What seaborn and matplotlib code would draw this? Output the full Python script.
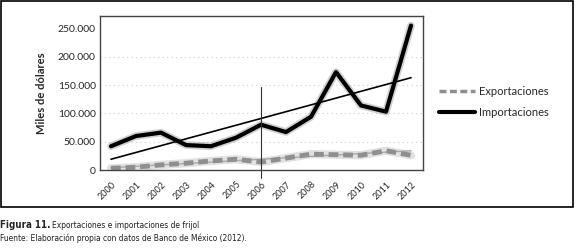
import numpy as np
import pandas as pd
from matplotlib import pyplot as plt
import seaborn as sns

years = [2000, 2001, 2002, 2003, 2004, 2005, 2006, 2007, 2008, 2009, 2010, 2011, 2012]
importaciones = [42000, 60000, 66000, 44000, 42000, 57000, 80000, 67000, 94000, 173000, 114000, 103000, 255000]
exportaciones = [3000, 5000, 9000, 12000, 16000, 19000, 14000, 21000, 28000, 27000, 26000, 34000, 26000]
# linear trend lines as drawn in the original (start, end)
trend_years = [2000, 2012]
trend_imp = [19000, 163000]
trend_exp = [4000, 34000]
yticks = [0, 50000, 100000, 150000, 200000, 250000]
ytick_labels = ['0', '50.000', '100.000', '150.000', '200.000', '250.000']

data = pd.DataFrame({'year': years, 'Importaciones': importaciones, 'Exportaciones': exportaciones})
trend = pd.DataFrame({'year': trend_years, 'imp': trend_imp, 'exp': trend_exp})

sns.set_style('white')
plt.rcParams['font.family'] = ['Lato', 'DejaVu Sans']

fig = plt.figure(figsize=(5.76, 2.5), dpi=100)
ax = fig.add_axes([100/576, 1-170/250, 323/576, 154/250])

# grid
for v in yticks[1:-1]:
    ax.axhline(v, color='#d8c8d8', lw=0.8, ls=(0, (1, 3)), zorder=0)

# shadows
sns.lineplot(data=data, x='year', y='Exportaciones', ax=ax, color='#c4c4c4', lw=6, alpha=0.5, legend=False)
sns.lineplot(data=data, x='year', y='Importaciones', ax=ax, color='#999999', lw=5.5, alpha=0.45, legend=False)
# series
sns.lineplot(data=trend, x='year', y='exp', ax=ax, color='#aaaaaa', lw=1, legend=False)
sns.lineplot(data=data, x='year', y='Exportaciones', ax=ax, color='#8f8f8f', lw=3.5,
             dashes=False, ls=(0, (2, 1)), label='Exportaciones')
sns.lineplot(data=data, x='year', y='Importaciones', ax=ax, color='black', lw=3, label='Importaciones')
sns.lineplot(data=trend, x='year', y='imp', ax=ax, color='black', lw=1.2, legend=False)

# vertical marker at 2006
ax.plot([2006, 2006], [-14000, 147000], color='#333333', lw=0.8, clip_on=False)

ax.set_xlim(1999.56, 2012.48)
ax.set_ylim(0, 272000)
ax.set_yticks(yticks)
ax.set_yticklabels(ytick_labels, fontsize=7.5)
ax.set_xticks(years)
ax.set_xticklabels([str(y) for y in years], fontsize=6.5, rotation=45, ha='right', rotation_mode='anchor')
ax.tick_params(axis='both', length=0, pad=3)
ax.tick_params(axis='x', pad=7)
ax.set_xlabel('')
ax.set_ylabel('Miles de dólares', fontsize=8, fontweight='bold', labelpad=8)
for s in ax.spines.values():
    s.set_color('#444444')
    s.set_linewidth(1)

leg = ax.legend(loc='center left', bbox_to_anchor=(1.02, 0.44), frameon=False, fontsize=8,
                handlelength=3.2, handletextpad=0.4, labelspacing=0.9)
leg.get_lines()[0].set_linewidth(2.5)

# outer frame
fig.add_artist(plt.Rectangle((1/576, 1-207/250), 572/576, 206/250, transform=fig.transFigure,
                             fill=False, ec='black', lw=1.2))

cap = ['DejaVu Sans']
t1 = fig.text(0.0, 1-225/250, 'Figura 11.', fontsize=7, fontweight='bold', family=cap,
              fontstretch='condensed', va='center')
fig.canvas.draw()
bb = t1.get_window_extent()
fig.text(bb.x1/576 + 2/576, 1-225/250, 'Exportaciones e importaciones de frijol', fontsize=6.0, family=cap,
         fontstretch='condensed', va='center', color='#222222')
fig.text(0.0, 1-238/250, 'Fuente: Elaboración propia con datos de Banco de México (2012).', fontsize=6.0,
         family=cap, fontstretch='condensed', va='center', color='#222222')

fig.savefig('out.png', dpi=100)
